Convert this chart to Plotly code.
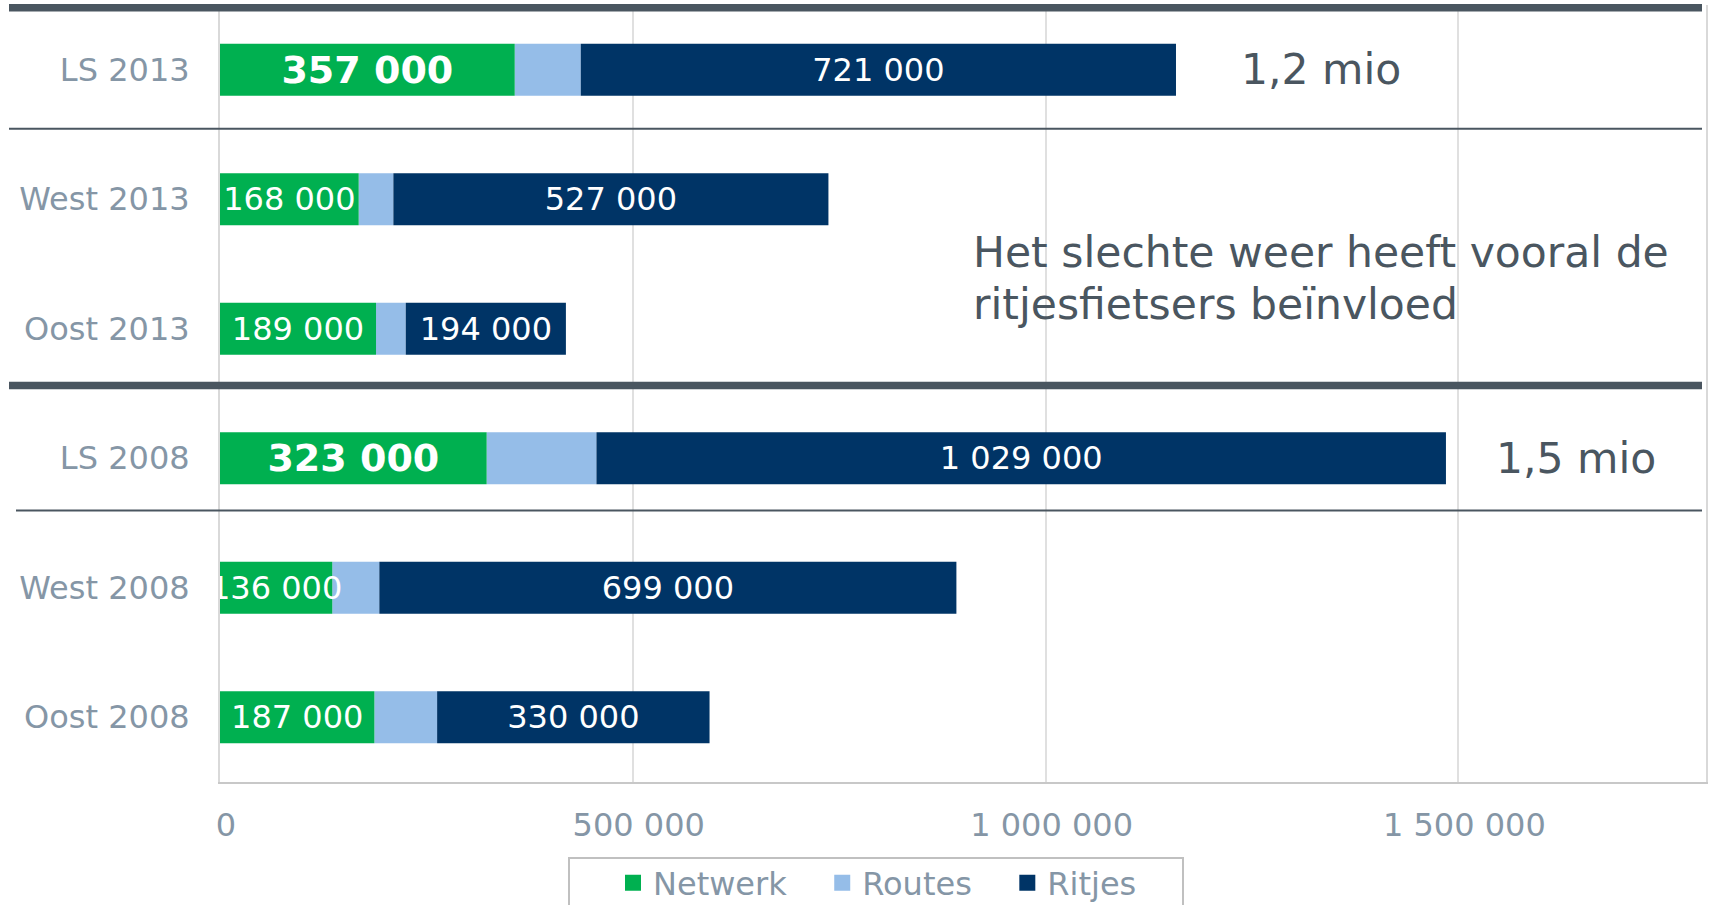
import plotly.graph_objects as go

categories = ["LS 2013", "West 2013", "Oost 2013", "LS 2008", "West 2008", "Oost 2008"]
netwerk = [357000, 168000, 189000, 323000, 136000, 187000]
routes = [80000, 42000, 36000, 133000, 57000, 76000]
ritjes = [721000, 527000, 194000, 1029000, 699000, 330000]
bold_rows = ["LS 2013", "LS 2008"]
tick_vals = [0, 500000, 1000000, 1500000]
series_names = ["Netwerk", "Routes", "Ritjes"]
colors = ["#00B050", "#95BDE8", "#003466"]
note_lines = ["Het slechte weer heeft vooral de", "ritjesfietsers beïnvloed"]

FONT = "DejaVu Sans"
GREY = "#8596A6"
DARK = "#4A5660"
FS = 32

# plot area geometry in pixels
L, R, T, B = 220, 3, 5, 123
W, H = 1709, 905
PW, PH = W - L - R, H - T - B


def px_x(p):
    return (p - L) / PW


def px_y(p):
    return (H - B - p) / PH


def fmt(v):
    return f"{v:,}".replace(",", " ")


base_routes = list(netwerk)
base_ritjes = [n + r for n, r in zip(netwerk, routes)]

fig = go.Figure()
fig.add_trace(go.Bar(
    y=categories, x=routes, base=base_routes, name=series_names[1], orientation="h",
    marker=dict(color=colors[1], line=dict(width=0)),
    showlegend=False, hoverinfo="skip",
))
fig.add_trace(go.Bar(
    y=categories, x=ritjes, base=base_ritjes, name=series_names[2], orientation="h",
    marker=dict(color=colors[2], line=dict(width=0)),
    text=[fmt(v) for v in ritjes], textposition="inside", insidetextanchor="middle",
    textangle=0, constraintext="none",
    textfont=dict(family=FONT, size=FS, color="white"),
    showlegend=False, hoverinfo="skip",
))
fig.add_trace(go.Bar(
    y=categories, x=netwerk, base=[0] * len(netwerk), name=series_names[0], orientation="h",
    marker=dict(color=colors[0], line=dict(width=0)),
    text=[f"<b>{fmt(v)}</b>" if c in bold_rows else fmt(v) for c, v in zip(categories, netwerk)],
    textposition="inside", insidetextanchor="middle", textangle=0, constraintext="none",
    textfont=dict(family=FONT, size=[38 if c in bold_rows else FS for c in categories], color="white"),
    showlegend=False, hoverinfo="skip",
))

# legend entries
for name, col in zip(series_names, colors):
    fig.add_trace(go.Scatter(
        x=[None], y=[None], mode="markers", name=name + "\u00a0\u00a0\u00a0",
        marker=dict(symbol="square", size=16, color=col), hoverinfo="skip",
    ))

# separator lines and legend frame
shapes = []
for ypx, w, x0px in [(7.8, 7.5, 9), (128.7, 2, 9), (385.5, 7.5, 9), (510.5, 2, 16)]:
    shapes.append(dict(type="line", xref="paper", yref="paper", x0=px_x(x0px), x1=px_x(1702),
                       y0=px_y(ypx), y1=px_y(ypx),
                       line=dict(color=DARK, width=w), layer="above"))
shapes.append(dict(type="rect", xref="paper", yref="paper", x0=px_x(569), x1=px_x(1183),
                   y0=px_y(858), y1=px_y(930), line=dict(color="#C0C0C0", width=2),
                   fillcolor="white", layer="above"))

totals = [n + r + t for n, r, t in zip(netwerk, routes, ritjes)]
annotations = []
for cat, tot, xpos in [(categories[0], totals[0], 1234000), (categories[3], totals[3], 1543000)]:
    annotations.append(dict(
        x=xpos, y=cat, xref="x", yref="y", xanchor="left", yanchor="middle",
        text=f"{tot / 1e6:.1f}".replace(".", ",") + " mio", showarrow=False,
        font=dict(family=FONT, size=42.5, color=DARK),
    ))
for line, ypx in zip(note_lines, [252.5, 304]):
    annotations.append(dict(
        x=px_x(971), y=px_y(ypx), xref="paper", yref="paper",
        xanchor="left", yanchor="middle", text=line, showarrow=False,
        font=dict(family=FONT, size=42.5, color=DARK),
    ))

fig.update_layout(
    width=W, height=H,
    margin=dict(l=L, r=R, t=T, b=B, pad=0, autoexpand=False),
    barmode="overlay", bargap=0.6,
    paper_bgcolor="white", plot_bgcolor="white",
    font=dict(family=FONT, size=FS, color=GREY),
    shapes=shapes, annotations=annotations,
    legend=dict(
        orientation="h", x=px_x(613), y=px_y(855.5),
        xanchor="left", yanchor="top", traceorder="normal",
        borderwidth=0, bgcolor="rgba(0,0,0,0)",
        font=dict(family=FONT, size=FS, color=GREY),
    ),
    xaxis=dict(
        range=[0, 1800000], tickvals=tick_vals, ticktext=[fmt(v) for v in tick_vals],
        showgrid=True, gridcolor="#E0E0E0", gridwidth=1.5, zeroline=False,
        showline=True, linecolor="#C8C8C8", linewidth=2,
        ticks="", ticklabelstandoff=14, ticklabelshift=6, automargin=False,
        tickfont=dict(family=FONT, size=FS, color=GREY),
    ),
    yaxis=dict(
        categoryorder="array", categoryarray=categories, range=[5.5, -0.5],
        showgrid=False, zeroline=False,
        showline=True, mirror=True, linecolor="#D9D9D9", linewidth=2,
        ticks="", ticklabelstandoff=22, automargin=False,
        tickfont=dict(family=FONT, size=FS, color=GREY),
    ),
)

fig.write_html(
    "out.html",
    config={"displayModeBar": False},
    post_script="document.body.style.margin='0';document.body.style.overflow='hidden';",
)
